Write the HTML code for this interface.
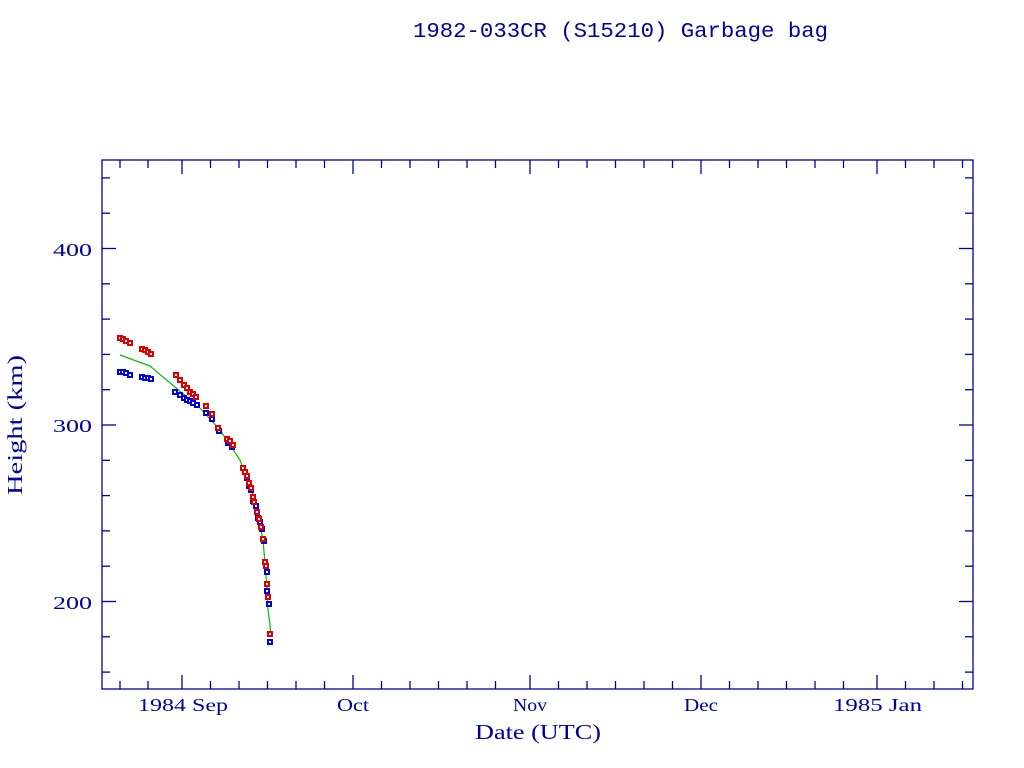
<!DOCTYPE html>
<html><head><meta charset="utf-8"><style>
html,body{margin:0;padding:0;background:#fff;width:1024px;height:768px;overflow:hidden}
text{font-family:"Liberation Serif",serif;fill:#0000a0}
</style></head><body>
<svg id="s" width="1024" height="768" xmlns="http://www.w3.org/2000/svg">
<text x="413" y="37" font-size="21" textLength="415" lengthAdjust="spacingAndGlyphs" style="font-family:'Liberation Mono',monospace">1982-033CR (S15210) Garbage bag</text>
<rect x="102" y="160" width="871" height="529" fill="none" stroke="#0000a0" stroke-width="1.3"/>
<g id="ax" stroke="#0000a0" stroke-width="1.3"></g>
<text x="53" y="256" font-size="18" textLength="39" lengthAdjust="spacingAndGlyphs">400</text>
<text x="53" y="432" font-size="18" textLength="39" lengthAdjust="spacingAndGlyphs">300</text>
<text x="53" y="609" font-size="18" textLength="39" lengthAdjust="spacingAndGlyphs">200</text>
<text x="138" y="711" font-size="18" textLength="90" lengthAdjust="spacingAndGlyphs">1984 Sep</text>
<text x="337" y="711" font-size="18" textLength="32" lengthAdjust="spacingAndGlyphs">Oct</text>
<text x="513" y="711" font-size="18" textLength="34" lengthAdjust="spacingAndGlyphs">Nov</text>
<text x="684" y="711" font-size="18" textLength="34" lengthAdjust="spacingAndGlyphs">Dec</text>
<text x="833" y="711" font-size="18" textLength="89" lengthAdjust="spacingAndGlyphs">1985 Jan</text>
<text x="475" y="739" font-size="21" textLength="126" lengthAdjust="spacingAndGlyphs">Date (UTC)</text>
<text transform="translate(22,495) rotate(-90)" font-size="21" textLength="140" lengthAdjust="spacingAndGlyphs">Height (km)</text>
<polyline fill="none" stroke="#00c000" stroke-width="1.2" points="120,355 150,366 175,387 200,408 220,430 240,460 255,500 263,540 266,575 268,610 270,625 271,637"/>
<g id="pts"></g>
</svg>
<script>
var ns="http://www.w3.org/2000/svg",ax=document.getElementById('ax'),pts=document.getElementById('pts');
function L(x1,y1,x2,y2){var l=document.createElementNS(ns,'line');l.setAttribute('x1',x1);l.setAttribute('y1',y1);l.setAttribute('x2',x2);l.setAttribute('y2',y2);ax.appendChild(l);}
for(var h=160;h<=440;h+=20){var y=425-(h-300)*1.765;var len=(h%100==0)?14:8;L(102,y,102+len,y);L(973,y,973-len,y);}
var majors=[182,353,530,701,877];
majors.forEach(function(x){L(x,689,x,675);L(x,160,x,174);});
var starts=[[182,30],[353,31],[530,30],[701,31],[877,31]];
var mins=[120,148];
starts.forEach(function(s){for(var d=5;d<s[1]-2;d+=5)mins.push(s[0]+d*5.7);});
mins.forEach(function(x){if(x>102&&x<973){L(x,689,x,681);L(x,160,x,168);}});
function R(x,y,w,f){var r=document.createElementNS(ns,'rect');r.setAttribute('x',x);r.setAttribute('y',y);r.setAttribute('width',w);r.setAttribute('height',w);r.setAttribute('fill',f);pts.appendChild(r);}
function P(arr,c){arr.forEach(function(p){R(p[0]-3,p[1]-3,6,c);R(p[0]-1,p[1]-1,2,'#fff');});}
P([[120,372],[123,372],[126,373],[130,375],[142,377],[145,378],[148,378],[151,379],[175,392],[180,395],[184,398],[187,400],[190,401],[193,403],[197,405],[206,413],[212,419],[219,431],[228,443],[232,447],[247,478],[249,486],[251,490],[253,501],[256,506],[258,518],[260,522],[262,529],[264,541],[267,572],[267,591],[269,604],[270,642]],'#0000e0');
P([[120,338],[123,339],[126,341],[130,343],[142,349],[145,350],[148,352],[151,354],[176,375],[180,380],[184,385],[187,388],[190,392],[193,394],[196,397],[206,406],[212,414],[218,428],[227,439],[230,441],[233,445],[243,468],[245,472],[247,476],[249,483],[251,488],[253,497],[254,502],[257,512],[259,519],[261,527],[263,539],[265,562],[266,566],[267,584],[268,597],[270,634]],'#e00000');
</script>
</body></html>
